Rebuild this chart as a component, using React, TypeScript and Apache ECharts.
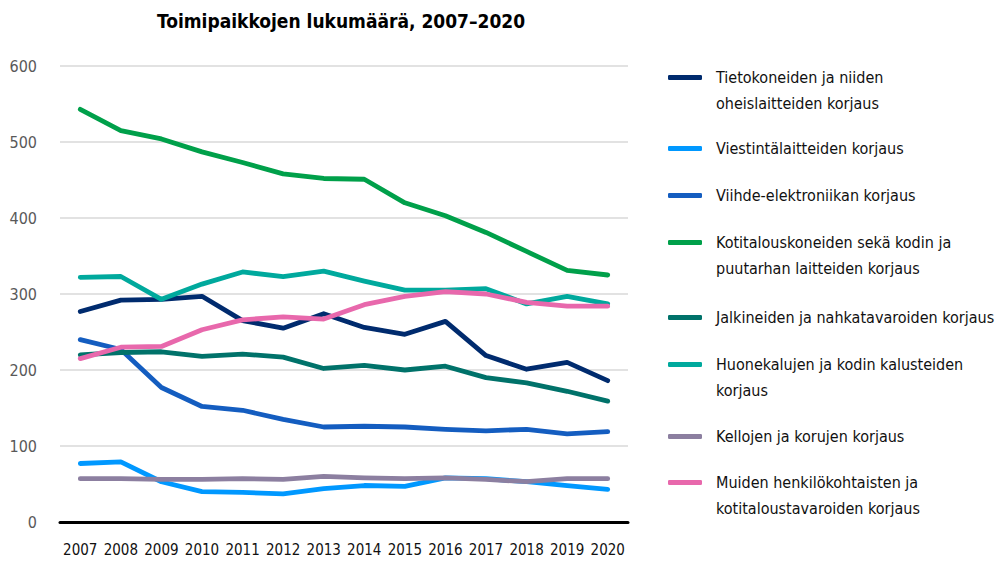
import React, { useEffect, useRef } from "react";
import * as echarts from "echarts";

const years = ["2007","2008","2009","2010","2011","2012","2013","2014","2015","2016","2017","2018","2019","2020"];

const seriesNames = [
  "Tietokoneiden ja niiden\noheislaitteiden korjaus",
  "Viestintälaitteiden korjaus",
  "Viihde-elektroniikan korjaus",
  "Kotitalouskoneiden sekä kodin ja\npuutarhan laitteiden korjaus",
  "Jalkineiden ja nahkatavaroiden korjaus",
  "Huonekalujen ja kodin kalusteiden\nkorjaus",
  "Kellojen ja korujen korjaus",
  "Muiden henkilökohtaisten ja\nkotitaloustavaroiden korjaus",
];

const tieto = [277, 292, 293, 297, 265, 255, 274, 256, 247, 264, 219, 201, 210, 186];
const viestinta = [77, 79, 53, 40, 39, 37, 44, 48, 47, 58, 57, 53, 48, 43];
const viihde = [240, 227, 177, 152, 147, 135, 125, 126, 125, 122, 120, 122, 116, 119];
const kotitalous = [543, 515, 504, 487, 473, 458, 452, 451, 420, 403, 381, 356, 331, 325];
const jalkineet = [220, 223, 224, 218, 221, 217, 202, 206, 200, 205, 190, 183, 172, 159];
const huonekalut = [322, 323, 293, 313, 329, 323, 330, 317, 305, 305, 307, 287, 297, 287];
const kellot = [57, 57, 56, 56, 57, 56, 60, 58, 57, 58, 56, 53, 57, 57];
const muut = [215, 230, 231, 253, 266, 270, 267, 286, 297, 303, 300, 289, 284, 284];

const seriesData = [tieto, viestinta, viihde, kotitalous, jalkineet, huonekalut, kellot, muut];
const colors = ["#002b6e", "#0098ff", "#145dc0", "#00a04a", "#00726a", "#00a99d", "#8c7fa0", "#e868ac"];

const FONT = "'Liberation Sans Narrow', 'DejaVu Sans Condensed', 'Roboto', sans-serif";

export default function App() {
  const ref = useRef<HTMLDivElement>(null);
  useEffect(() => {
    if (!ref.current) return;
    const chart = echarts.init(ref.current, null, { renderer: "svg" });
    const iconCenters = [77, 148, 195, 242, 317, 364, 436, 482];
    const legends = seriesNames.map((name, i) => {
      const twoLine = name.includes("\n");
      return {
        left: 668,
        top: iconCenters[i] - (twoLine ? 39 : 13) + 0.5,
        padding: 0,
        orient: "vertical",
        icon: "roundRect",
        itemWidth: 34,
        itemHeight: 5,
        data: [name],
        formatter: (n: string) => (n.includes("\n") ? " \n" + n : n),
        textStyle: {
          fontFamily: FONT,
          fontSize: 16,
          color: "#111",
          lineHeight: 26,
          padding: [0, 0, 0, 9],
        },
      };
    });
    chart.setOption({
      animation: false,
      title: {
        text: "Toimipaikkojen lukumäärä, 2007–2020",
        left: 152,
        top: 6,
        textStyle: { fontFamily: FONT, fontSize: 19, fontWeight: "bold", color: "#000" },
      },
      legend: legends,
      grid: { left: 60, right: 380, top: 66, bottom: 42 },
      xAxis: {
        type: "category",
        data: years,
        boundaryGap: true,
        axisLine: { show: true, lineStyle: { color: "#000", width: 3 } },
        axisTick: { show: false },
        axisLabel: { fontFamily: FONT, fontSize: 15, color: "#111", margin: 20, interval: 0 },
      },
      yAxis: {
        type: "value",
        min: 0,
        max: 600,
        interval: 100,
        axisLine: { show: false },
        axisTick: { show: false },
        splitLine: { lineStyle: { color: "#d9d9d9", width: 1.5 } },
        axisLabel: { fontFamily: FONT, fontSize: 16, color: "#595959", margin: 23 },
      },
      series: seriesNames.map((name, i) => ({
        name,
        type: "line",
        data: seriesData[i],
        showSymbol: false,
        symbol: "none",
        color: colors[i],
        lineStyle: { width: 4.8, color: colors[i], cap: "round", join: "round" },
        itemStyle: { color: colors[i] },
      })),
    });
    return () => chart.dispose();
  }, []);
  return <div ref={ref} style={{ width: 1008, height: 564, position: "absolute", left: 0, top: 0 }} />;
}
